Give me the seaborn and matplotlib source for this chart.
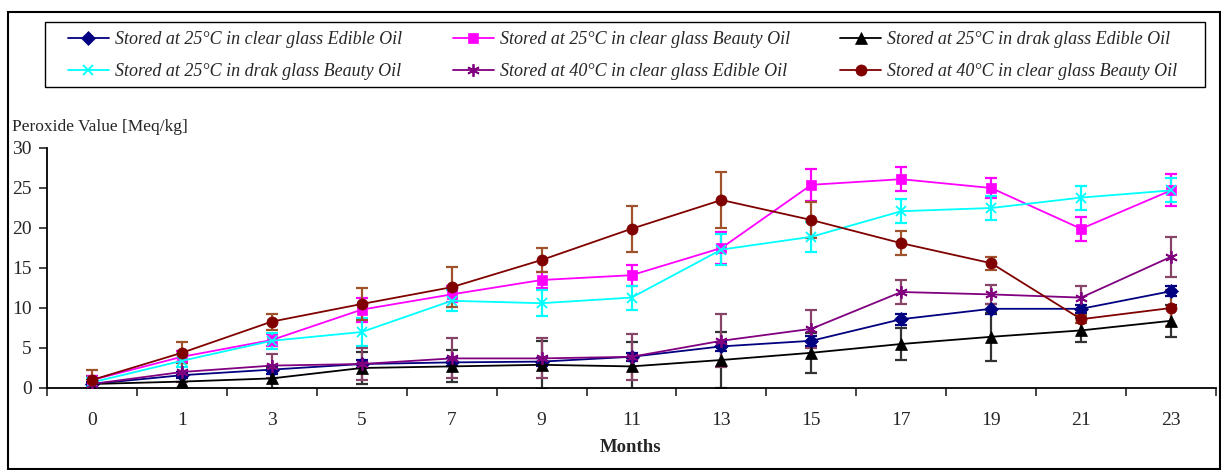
import numpy as np
import pandas as pd
import matplotlib
matplotlib.use("Agg")
import matplotlib.pyplot as plt
from matplotlib.patches import Rectangle
import seaborn as sns

# meses (eixo categórico)
months = ["0", "1", "3", "5", "7", "9", "11", "13", "15", "17", "19", "21", "23"]

series_names = [
    "Stored at 25°C in clear glass Edible Oil",
    "Stored at 25°C in clear glass Beauty Oil",
    "Stored at 25°C in drak glass Edible Oil",
    "Stored at 25°C in drak glass Beauty Oil",
    "Stored at 40°C in clear glass Edible Oil",
    "Stored at 40°C in clear glass Beauty Oil",
]

# valores de peróxido [Meq/kg]
edible_25_clear = [0.5, 1.6, 2.3, 3.0, 3.2, 3.3, 3.9, 5.2, 5.9, 8.6, 9.9, 9.9, 12.1]
beauty_25_clear = [1.0, 3.9, 6.0, 9.8, 11.7, 13.5, 14.1, 17.5, 25.4, 26.1, 25.0, 19.9, 24.7]
edible_25_dark = [0.5, 0.8, 1.2, 2.5, 2.7, 2.9, 2.7, 3.5, 4.4, 5.5, 6.4, 7.2, 8.4]
beauty_25_dark = [0.7, 3.4, 5.9, 7.0, 10.9, 10.6, 11.3, 17.3, 18.9, 22.1, 22.5, 23.8, 24.7]
edible_40_clear = [0.5, 2.0, 2.8, 3.0, 3.7, 3.7, 3.9, 5.9, 7.4, 12.0, 11.7, 11.3, 16.4]
beauty_40_clear = [1.0, 4.4, 8.3, 10.5, 12.6, 16.0, 19.9, 23.5, 21.0, 18.1, 15.6, 8.6, 10.0]

# barras de erro (desvio)
err_edible_25_clear = [0.3, 0.4, 0.5, 0.5, 0.5, 0.5, 0.5, 0.6, 0.6, 0.7, 0.6, 0.5, 0.6]
err_beauty_25_clear = [0.5, 0.7, 0.7, 1.5, 1.0, 1.0, 1.3, 2.0, 2.0, 1.5, 1.3, 1.5, 2.0]
err_edible_25_dark = [0.6, 0.8, 1.3, 2.0, 2.0, 3.0, 3.0, 3.5, 2.5, 2.0, 3.0, 1.5, 2.0]
err_beauty_25_dark = [0.5, 0.8, 1.0, 1.8, 1.3, 1.6, 1.5, 1.9, 1.9, 1.5, 1.5, 1.5, 1.5]
err_edible_40_clear = [1.0, 1.2, 1.5, 2.0, 2.5, 2.5, 2.9, 3.3, 2.4, 1.5, 1.2, 1.5, 2.5]
err_beauty_40_clear = [1.3, 1.3, 1.0, 2.0, 2.5, 1.5, 2.9, 3.5, 2.3, 1.5, 0.8, 0.5, 2.2]

values = [edible_25_clear, beauty_25_clear, edible_25_dark,
          beauty_25_dark, edible_40_clear, beauty_40_clear]
errors = [err_edible_25_clear, err_beauty_25_clear, err_edible_25_dark,
          err_beauty_25_dark, err_edible_40_clear, err_beauty_40_clear]

line_colors = ["#000080", "#FF00FF", "#000000", "#00FFFF", "#800080", "#800000"]
err_colors = ["#000080", "#FF00FF", "#333333", "#00FFFF", "#884466", "#A0522D"]
markers = ["D", "s", "^", "x", (6, 2, 0), "o"]
msizes = [7, 7, 8, 7, 9, 8]

sns.set_style("white")
plt.rcParams["font.family"] = ["Liberation Serif", "DejaVu Serif"]

W, H = 1221, 470
fig = plt.figure(figsize=(W / 100, H / 100), dpi=100)
ax = fig.add_axes([47 / W, 1 - 388 / H, (1216 - 47) / W, (388 - 148) / H])

pos = np.arange(len(months))
for name, vals, errs, lc, ec, mk, ms in zip(series_names, values, errors,
                                            line_colors, err_colors, markers, msizes):
    df = pd.DataFrame({"pos": pos, "value": vals})
    ax.errorbar(df["pos"], df["value"], yerr=errs, fmt="none", ecolor=ec,
                elinewidth=1.6, capsize=4.5, capthick=1.6, zorder=2)
    sns.lineplot(data=df, x="pos", y="value", ax=ax, color=lc, marker=mk,
                 markersize=ms, markeredgecolor=lc,
                 markeredgewidth=1.3 if mk in ("x", (6, 2, 0)) else 0.5,
                 linewidth=1.3, label=name, zorder=3, legend=False)

ax.set_xlim(-0.5, len(months) - 0.5)
ax.set_ylim(0, 30)
ax.set_yticks([0, 5, 10, 15, 20, 25, 30])
ax.set_xticks(pos)
ax.set_xticklabels(months)
ax.set_xticks(np.arange(len(months) + 1) - 0.5, minor=True)
ax.tick_params(axis="x", which="major", length=0, pad=17, labelsize=14)
ax.tick_params(axis="x", which="minor", length=6, width=1.2, direction="out", bottom=True)
ax.tick_params(axis="y", length=6, width=1.2, direction="out", left=True, labelsize=14, pad=5)
ax.set_xlabel("")
ax.set_ylabel("")
for s in ["top", "right"]:
    ax.spines[s].set_visible(False)
for s in ["left", "bottom"]:
    ax.spines[s].set_color("black")
    ax.spines[s].set_linewidth(1.3)

fig.text(12 / W, 1 - 127 / H, "Peroxide Value [Meq/kg]", fontsize=12.5, va="center", ha="left")
fig.text(631 / W, 1 - 447 / H, "Months", fontsize=13.5, fontweight="bold", va="center", ha="center")

handles = [h for h in ax.get_lines() if h.get_label() in series_names]
# legenda preenchida por linhas (ordem do Excel)
order = [0, 3, 1, 4, 2, 5]
leg = fig.legend([handles[i] for i in order], [series_names[i] for i in order],
                 loc="upper left", bbox_to_anchor=(68 / W, 1 - 31 / H),
                 ncol=3, frameon=False,
                 prop={"family": "Liberation Serif", "style": "italic", "size": 13},
                 handlelength=2.27, borderaxespad=0, borderpad=0,
                 labelspacing=0.85, handletextpad=0.33, columnspacing=2.8)

# moldura da legenda e da figura
fig.patches.append(Rectangle((45 / W, 1 - 87 / H), (1205 - 45) / W, 65 / H,
                             transform=fig.transFigure, fill=False,
                             edgecolor="black", linewidth=1.0))
fig.patches.append(Rectangle((8 / W, 1 / H), 1 - 9 / W, 1 - 13 / H,
                             transform=fig.transFigure, fill=False,
                             edgecolor="black", linewidth=1.5))

fig.savefig("out.png", dpi=100)
